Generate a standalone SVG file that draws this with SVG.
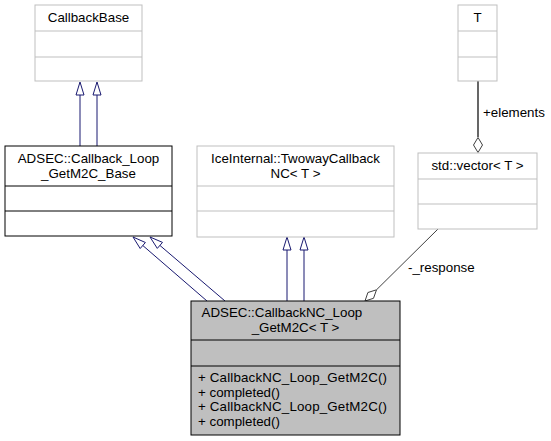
<svg xmlns="http://www.w3.org/2000/svg" width="551" height="441" viewBox="0 0 551 441">
<style>
text{font-family:"Liberation Sans",Arial,sans-serif;font-size:13.33px;fill:#000}
.c{text-anchor:middle}
.gb{fill:#fff;stroke:#bfbfbf;stroke-width:1}
.bb{fill:#fff;stroke:#000;stroke-width:1}
.mb{fill:#bfbfbf;stroke:#000;stroke-width:1}
.gl{stroke:#bfbfbf;stroke-width:1}
.bl{stroke:#000;stroke-width:1}
.inh{stroke:#191970;stroke-width:1;fill:none}
.ih{fill:#fff;stroke:#191970;stroke-width:1}
.agg{stroke:#404040;stroke-width:1;fill:none}
.ah{fill:#fff;stroke:#404040;stroke-width:1}
</style>
<rect width="551" height="441" fill="#fff"/>
<g id="connectors">
  <line class="inh" x1="80" y1="95" x2="80" y2="146"/>
  <polygon class="ih" points="80,82 76,95 84,95"/>
  <line class="inh" x1="97" y1="95" x2="97" y2="146"/>
  <polygon class="ih" points="97,82 93,95 101,95"/>
  <line class="inh" x1="207" y1="301" x2="142.8" y2="245.5"/>
  <polygon class="ih" points="133,237 145.4,242.5 140.2,248.5"/>
  <line class="inh" x1="225" y1="301" x2="159.9" y2="245.4"/>
  <polygon class="ih" points="150,237 162.5,242.4 157.3,248.4"/>
  <line class="inh" x1="287" y1="250" x2="287" y2="301"/>
  <polygon class="ih" points="287,237 283,250 291,250"/>
  <line class="inh" x1="304" y1="250" x2="304" y2="301"/>
  <polygon class="ih" points="304,237 300,250 308,250"/>
  <line class="agg" x1="478" y1="81" x2="478" y2="137" style="stroke-width:1.6"/>
  <polygon class="ah" points="478,152.5 473.5,145 478,137.5 482.5,145"/>
  <text x="483" y="117">+elements</text>
  <line class="agg" x1="438" y1="229" x2="376.5" y2="289.8"/>
  <polygon class="ah" points="365,301 367.9,292.5 376.5,289.8 373.5,298.3"/>
  <text x="408" y="272">-_response</text>
</g>
<g id="CallbackBase">
  <rect class="gb" x="35" y="5" width="107" height="76"/>
  <line class="gl" x1="35" y1="31" x2="142" y2="31"/>
  <line class="gl" x1="35" y1="57" x2="142" y2="57"/>
  <text class="c" x="88.5" y="22">CallbackBase</text>
</g>
<g id="Callback_Loop_GetM2C_Base">
  <rect class="bb" x="5" y="146" width="167" height="90"/>
  <line class="bl" x1="5" y1="186" x2="172" y2="186"/>
  <line class="bl" x1="5" y1="211" x2="172" y2="211"/>
  <text class="c" x="88.5" y="163">ADSEC::Callback_Loop</text>
  <text class="c" x="88.5" y="178">_GetM2C_Base</text>
</g>
<g id="TwowayCallbackNC">
  <rect class="gb" x="197" y="146" width="197" height="91"/>
  <line class="gl" x1="197" y1="186" x2="394" y2="186"/>
  <line class="gl" x1="197" y1="211" x2="394" y2="211"/>
  <text class="c" x="295.5" y="163">IceInternal::TwowayCallback</text>
  <text class="c" x="295.5" y="178">NC&lt; T &gt;</text>
</g>
<g id="T">
  <rect class="gb" x="458" y="5" width="39" height="76"/>
  <line class="gl" x1="458" y1="31" x2="497" y2="31"/>
  <line class="gl" x1="458" y1="57" x2="497" y2="57"/>
  <text class="c" x="477.5" y="22">T</text>
</g>
<g id="vector">
  <rect class="gb" x="418" y="153" width="119" height="76"/>
  <line class="gl" x1="418" y1="179" x2="537" y2="179"/>
  <line class="gl" x1="418" y1="204" x2="537" y2="204"/>
  <text class="c" x="477.5" y="170">std::vector&lt; T &gt;</text>
</g>
<g id="CallbackNC_Loop_GetM2C">
  <rect class="mb" x="191" y="301" width="209" height="134"/>
  <line class="bl" x1="191" y1="340" x2="400" y2="340"/>
  <line class="bl" x1="191" y1="366" x2="400" y2="366"/>
  <text x="201.5" y="317">ADSEC::CallbackNC_Loop</text>
  <text class="c" x="295.5" y="332">_GetM2C&lt; T &gt;</text>
  <text x="198" y="382" textLength="189">+ CallbackNC_Loop_GetM2C()</text>
  <text x="198" y="397">+ completed()</text>
  <text x="198" y="411" textLength="189">+ CallbackNC_Loop_GetM2C()</text>
  <text x="198" y="426">+ completed()</text>
</g>
</svg>
